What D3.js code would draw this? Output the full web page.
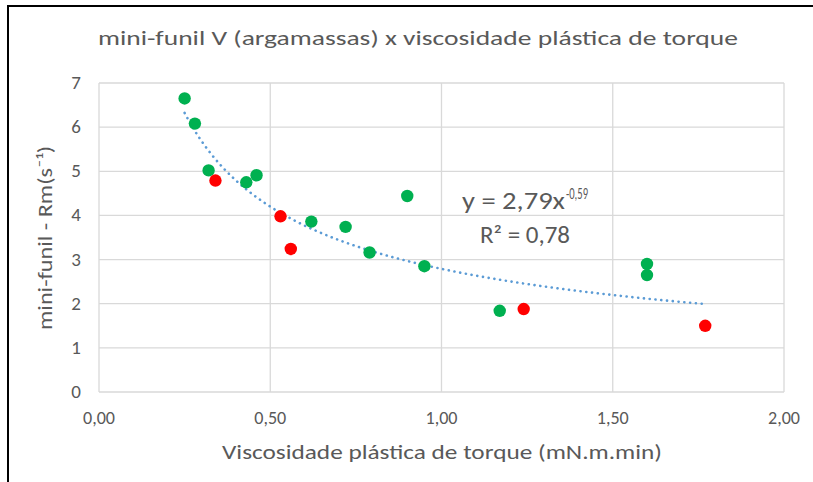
<!DOCTYPE html>
<html lang="pt">
<head>
    <meta charset="UTF-8">
    <script src="https://d3js.org/d3.v7.min.js"></script>
    <style>
        body { margin: 0; background: #fff; }
        text { font-family: Carlito, Calibri, "Open Sans", sans-serif; fill: #595959; }
    </style>
    <title>mini-funil V x viscosidade plástica</title>
</head>
<body>
<script>
// dados (x = viscosidade plástica, y = mini-funil Rm)
const greenX = [0.25, 0.28, 0.32, 0.43, 0.46, 0.62, 0.72, 0.79, 0.90, 0.95, 1.17, 1.60, 1.60];
const greenY = [6.65, 6.08, 5.02, 4.75, 4.91, 3.86, 3.74, 3.16, 4.44, 2.85, 1.84, 2.90, 2.65];
const redX = [0.34, 0.53, 0.56, 1.24, 1.77];
const redY = [4.79, 3.98, 3.24, 1.88, 1.50];
const xTicks = [0, 0.5, 1, 1.5, 2];
const yTicks = [0, 1, 2, 3, 4, 5, 6, 7];
const trendA = 2.79, trendB = -0.59;

const w = 813, h = 482;
const plotLeft = 99, plotRight = 784, plotTop = 83, plotBottom = 392;

const x = d3.scaleLinear([0, 2], [plotLeft, plotRight]);
const y = d3.scaleLinear([0, 7], [plotBottom, plotTop]);
const fmt = d => d.toFixed(2).replace(".", ",");

const svg = d3.select("body").append("svg")
    .attr("width", w).attr("height", h);

// moldura (só topo e esquerda aparecem)
svg.append("line").attr("x1", 7).attr("x2", w).attr("y1", 6).attr("y2", 6)
    .attr("stroke", "#000").attr("stroke-width", 2);
svg.append("line").attr("x1", 8).attr("x2", 8).attr("y1", 6).attr("y2", h)
    .attr("stroke", "#000").attr("stroke-width", 2);

// grade
svg.append("g").selectAll("line").data(yTicks).enter().append("line")
    .attr("x1", plotLeft).attr("x2", plotRight)
    .attr("y1", d => y(d)).attr("y2", d => y(d))
    .attr("stroke", "#d9d9d9").attr("stroke-width", 1.3);
svg.append("g").selectAll("line").data(xTicks).enter().append("line")
    .attr("x1", d => x(d)).attr("x2", d => x(d))
    .attr("y1", plotTop).attr("y2", plotBottom)
    .attr("stroke", "#d9d9d9").attr("stroke-width", 1.3);

// rótulos dos eixos
svg.append("g").selectAll("text").data(yTicks).enter().append("text")
    .attr("x", 81).attr("y", d => y(d) + 6)
    .attr("text-anchor", "end").attr("font-size", 19)
    .text(d => d);
svg.append("g").selectAll("text").data(xTicks).enter().append("text")
    .attr("x", d => x(d)).attr("y", 424)
    .attr("text-anchor", "middle").attr("font-size", 19)
    .attr("textLength", 32).attr("lengthAdjust", "spacingAndGlyphs")
    .text(fmt);

// linha de tendência potência
const allX = greenX.concat(redX);
const xMin = d3.min(allX), xMax = d3.max(allX);
const xs = d3.range(0, 101).map(i => xMin + i / 100 * (xMax - xMin));
const line = d3.line().x(d => x(d)).y(d => y(trendA * Math.pow(d, trendB)));
svg.append("path").datum(xs).attr("d", line)
    .attr("fill", "none").attr("stroke", "#5b9bd5").attr("stroke-width", 2.6)
    .attr("stroke-linecap", "round").attr("stroke-dasharray", "0.1,5.7");

// pontos
svg.append("g").selectAll("circle").data(d3.range(greenX.length)).enter().append("circle")
    .attr("cx", i => x(greenX[i])).attr("cy", i => y(greenY[i])).attr("r", 6.2)
    .attr("fill", "#00b050");
svg.append("g").selectAll("circle").data(d3.range(redX.length)).enter().append("circle")
    .attr("cx", i => x(redX[i])).attr("cy", i => y(redY[i])).attr("r", 6.2)
    .attr("fill", "#ff0000");

// equação
svg.append("text").attr("x", 462).attr("y", 209).attr("font-size", 24)
    .attr("textLength", 103).attr("lengthAdjust", "spacingAndGlyphs")
    .text("y = 2,79x");
svg.append("text").attr("x", 566).attr("y", 199).attr("font-size", 17)
    .attr("textLength", 22).attr("lengthAdjust", "spacingAndGlyphs")
    .text("-0,59");
svg.append("text").attr("x", 480).attr("y", 243).attr("font-size", 24)
    .attr("textLength", 90).attr("lengthAdjust", "spacingAndGlyphs")
    .text("R² = 0,78");

// títulos
svg.append("text").attr("x", 418).attr("y", 45)
    .attr("text-anchor", "middle").attr("font-size", 21)
    .attr("textLength", 640).attr("lengthAdjust", "spacingAndGlyphs")
    .text("mini-funil V (argamassas) x viscosidade plástica de torque");
svg.append("text").attr("x", 442).attr("y", 459)
    .attr("text-anchor", "middle").attr("font-size", 20)
    .attr("textLength", 440).attr("lengthAdjust", "spacingAndGlyphs")
    .text("Viscosidade plástica de torque (mN.m.min)");
svg.append("text").attr("transform", "translate(52,238) rotate(-90)")
    .attr("text-anchor", "middle").attr("font-size", 20)
    .attr("textLength", 184).attr("lengthAdjust", "spacingAndGlyphs")
    .text("mini-funil - Rm(s⁻¹)");
</script>
</body>
</html>
